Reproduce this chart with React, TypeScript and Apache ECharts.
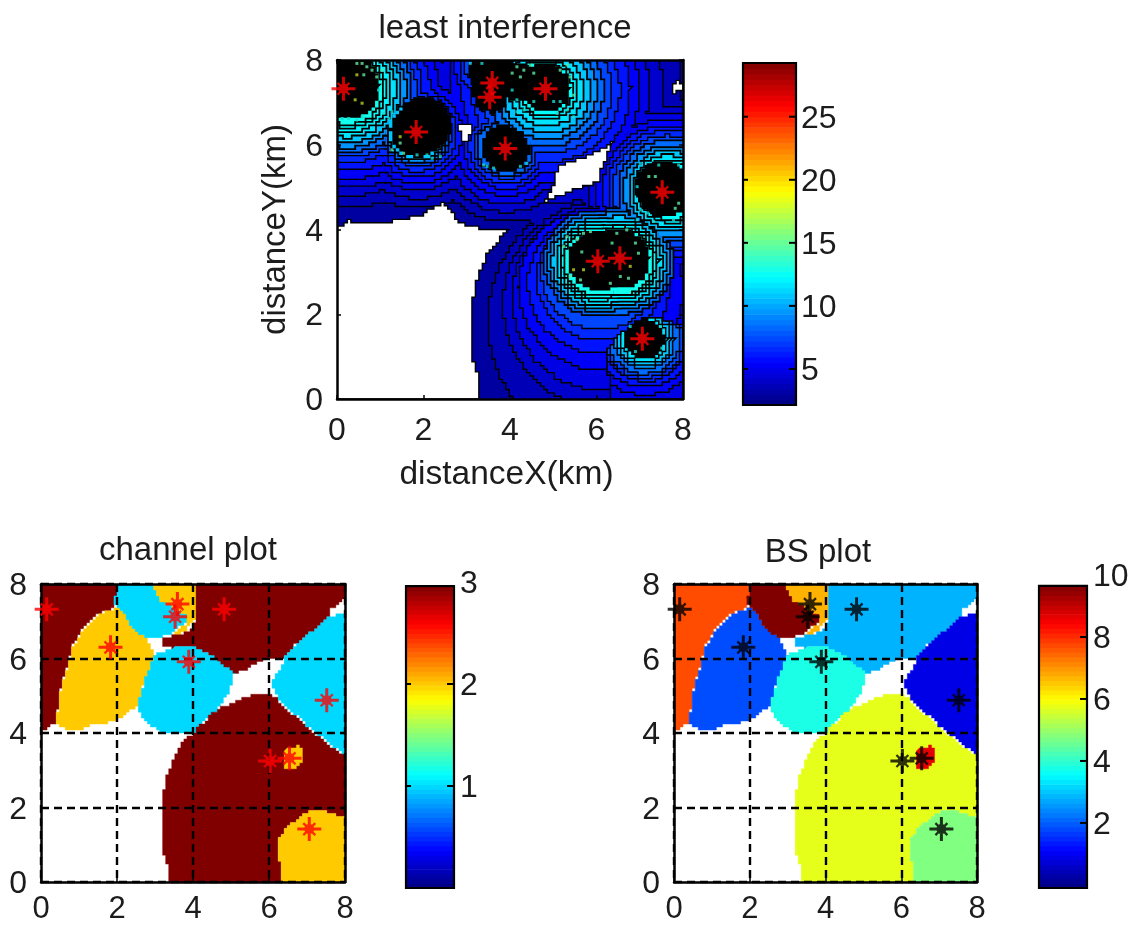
import React, { useEffect, useRef } from "react";
import * as echarts from "echarts";

// ---------- data (all in km) ----------
const bsPositions = [
  [0.15, 7.32], [1.83, 6.3], [3.59, 7.46], [3.53, 7.12], [3.89, 5.91],
  [4.82, 7.32], [7.52, 4.88], [6.03, 3.25], [6.54, 3.32], [7.06, 1.42],
];

// cells of the channel and BS plots
const regionA = [[0, 4.06], [0, 8], [1.99, 8], [1.95, 7.45], [1.82, 7.3], [1.5, 7.17], [1.11, 6.81], [0.85, 6.36], [0.68, 5.78], [0.5, 5.06], [0.39, 4.26], [0.24, 4.17], [0.06, 4.08]];
const regionB = [[1.95, 7.39], [2.12, 7.26], [2.34, 6.9], [2.78, 6.5], [2.91, 6.23], [3.0, 6.0], [2.87, 5.69], [2.69, 5.24], [2.56, 4.75], [2.34, 4.53], [2.08, 4.39], [1.77, 4.27], [1.33, 4.21], [1.03, 4.08], [0.68, 4.09], [0.39, 4.24], [0.5, 5.06], [0.68, 5.78], [0.85, 6.36], [1.11, 6.81], [1.5, 7.17], [1.82, 7.3]];
const regionD = [[1.97, 8], [2.96, 8], [3.13, 7.57], [3.48, 7.39], [3.83, 7.17], [3.79, 6.9], [3.48, 6.68], [3.18, 6.59], [2.76, 6.54], [2.43, 6.85], [2.19, 7.26], [1.95, 7.48]];
const regionE = [[2.96, 8], [4.1, 8], [4.1, 7.2], [3.98, 6.94], [3.75, 6.68], [3.44, 6.62], [3.48, 6.68], [3.79, 6.9], [3.83, 7.17], [3.48, 7.39], [3.13, 7.57]];
const regionF = [[4.1, 8], [8, 8], [8, 7.62], [7.91, 7.53], [7.6, 7.26], [7.56, 7.12], [7.25, 6.81], [6.9, 6.5], [6.6, 6.23], [6.42, 6.0], [5.9, 5.96], [5.42, 5.69], [5.06, 5.6], [4.8, 5.78], [4.5, 6.05], [4.1, 6.27], [3.75, 6.32], [3.48, 6.27], [3.22, 6.32], [3.18, 6.54], [3.48, 6.63], [3.75, 6.68], [3.96, 6.85], [4.1, 7.2]];
const regionG = [[3.53, 6.3], [4.0, 6.3], [4.5, 6.05], [4.8, 5.78], [5.1, 5.56], [4.97, 5.1], [4.75, 4.7], [4.4, 4.39], [4.05, 4.03], [3.66, 4.0], [3.22, 4.03], [2.82, 4.26], [2.56, 4.6], [2.59, 4.97], [2.78, 5.6], [3.0, 6.14], [3.22, 6.18]];
const regionH = [[4.05, 4.0], [3.75, 3.76], [3.53, 3.36], [3.31, 2.82], [3.18, 2.2], [3.18, 0.85], [3.35, 0.36], [3.38, 0], [6.29, 0], [6.27, 1.21], [6.46, 1.52], [6.99, 1.88], [7.43, 1.91], [7.96, 1.7], [8, 1.7], [8, 3.42], [7.69, 3.63], [7.21, 3.99], [6.64, 4.52], [6.2, 4.97], [5.94, 5.06], [5.68, 5.04], [5.15, 4.84], [4.75, 4.66], [4.36, 4.35]];
const regionI = [[8, 7.24], [7.96, 7.21], [7.56, 7.08], [7.25, 6.81], [6.9, 6.5], [6.46, 6.09], [6.33, 5.78], [6.07, 5.29], [6.2, 4.97], [6.64, 4.52], [7.21, 3.99], [7.69, 3.63], [8, 3.42]];
const regionJ = [[6.29, 0], [6.27, 1.21], [6.46, 1.52], [6.99, 1.88], [7.43, 1.91], [7.96, 1.7], [8, 1.7], [8, 0]];
const regionK = [[6.45, 3.6], [6.75, 3.65], [6.9, 3.5], [6.9, 3.25], [6.72, 3.05], [6.45, 3.0], [6.4, 3.3]];
const regions = [regionA, regionB, regionD, regionE, regionF, regionG, regionH, regionI, regionJ, regionK];

const channelValues = [3, 2, 1, 2, 3, 1, 3, 1, 2, 2];
const stationValues = [8, 2, 10, 7, 3, 4, 6, 1, 5, 9];

// "least interference": contours, one radius per contour level (0 = that source has no such contour)
const sourceCentres = [[0.2, 7.33], [1.83, 6.3], [3.55, 7.85], [4.82, 7.32], [3.89, 5.91], [7.7, 4.9], [6.03, 3.2], [6.54, 3.25]];
const radiiA = [2.79, 2.52, 2.33, 2.13, 1.93, 1.73, 1.61, 1.5, 1.38, 1.26, 1.14, 1.03, 0.91, 0.84];
const radiiB = [1.78, 1.55, 1.35, 1.19, 1.04, 0.92, 0.8, 0.74, 0.68, 0.64];
const radiiD = [1.55, 1.35, 1.05, 0.93, 0.81, 0.7, 0.58];
const radiiF = [3.14, 2.71, 2.4, 2.17, 1.94, 1.71, 1.52, 1.33, 1.17, 1.02, 0.86, 0.71, 0.62];
const radiiG = [1.7, 1.48, 1.3, 1.1, 0.94, 0.82, 0.7, 0.62];
const radiiI = [2.2, 2.0, 1.85, 1.69, 1.54, 1.42, 1.3, 1.18, 1.06, 0.94, 0.83, 0.72, 0.66];
const radiiH1 = [0, 0, 0, 0, 0, 0, 0, 1.22, 1.13, 1.04, 0.95, 0.86, 0.8, 0.76];
const radiiH2 = [0, 0, 0, 0, 0, 0, 0, 1.22, 1.13, 1.04, 0.95, 0.86, 0.8, 0.76];
const sourceRadii = [radiiA, radiiB, radiiD, radiiF, radiiG, radiiI, radiiH1, radiiH2];
// the wide lower contours of the large cell: [x, y, radius, level]
const wideContours = [[6.6, 1.8, 3.1, 1], [6.3, 2.2, 2.45, 2], [6.2, 2.35, 2.15, 3], [6.1, 2.6, 1.9, 4], [6.05, 2.7, 1.62, 5], [6.05, 2.82, 1.42, 6], [6.05, 2.95, 1.3, 7]];
// the lower right cell stands apart: contour radii and the level of each band inside it
const cellJCentre = [7.09, 1.42];
const cellJBaseLevel = 3;
const cellJRadii = [1.32, 1.14, 1.0, 0.92, 0.83, 0.71, 0.63, 0.55];
const cellJLevels = [4, 5, 6, 7, 8, 9, 10, 11];
const cellJBlack = 0.48;
// saturated zones: [x, y, radius]
const blackZones = [[0.2, 7.4, 0.8], [1.83, 6.3, 0.6], [2.05, 6.5, 0.62], [3.55, 7.45, 0.47], [3.55, 7.15, 0.4], [3.6, 7.75, 0.55], [4.15, 7.5, 0.45], [4.82, 7.35, 0.58], [3.89, 5.91, 0.56], [6.03, 3.25, 0.7], [6.54, 3.32, 0.7], [7.55, 4.95, 0.66]];
// areas left white (below the lowest level)
const whiteCorner = [[0, 0], [0, 4.06], [0.27, 4.2], [0.62, 4.14], [1.43, 4.22], [1.97, 4.38], [2.47, 4.67], [2.77, 4.18], [3.28, 4.03], [3.96, 4.0], [3.54, 3.48], [3.27, 2.92], [3.08, 1.9], [3.08, 1.11], [3.31, 0.41], [3.31, 0]];
const whiteGap = [[2.77, 6.5], [3.04, 6.5], [3.12, 6.34], [3.04, 6.1], [2.93, 6.09], [2.85, 6.34]];
const whiteDiamond = [[6.39, 6.08], [6.12, 5.4], [6.04, 5.12], [5.39, 4.89], [4.81, 4.67], [5.0, 5.08], [5.1, 5.52], [5.62, 5.67]];
const whiteSliver = [[7.93, 7.55], [7.97, 7.29], [7.78, 7.19], [7.72, 7.21], [7.79, 7.44]];
const whiteAreas = [whiteCorner, whiteGap, whiteDiamond, whiteSliver];

// isolated coloured pixels inside the black saturated zones
const cyanDots = [[0.12, 6.62], [0.27, 6.62], [0.46, 6.58], [0.58, 6.66], [1.08, 6.74], [1.2, 6.62], [0.96, 7.29], [1.27, 6.78], [1.85, 5.76], [2.08, 5.76], [2.2, 5.68], [2.39, 5.72], [3.47, 5.49], [3.62, 5.45], [3.39, 5.52], [4.24, 5.49], [4.39, 5.56], [4.05, 7.29], [4.16, 7.06], [4.32, 6.82], [4.16, 6.78], [4.55, 7.02], [5.01, 7.02], [5.16, 7.02], [5.32, 6.82], [5.09, 6.74], [5.47, 6.66], [7.44, 5.52], [7.9, 5.52], [7.01, 5.56], [6.94, 5.01], [7.01, 4.46], [7.17, 4.39], [6.94, 4.23], [7.32, 4.19], [7.78, 4.23], [6.9, 1.12], [7.51, 1.2], [7.48, 1.71], [6.78, 1.71], [3.08, 7.92], [3.35, 7.92]];
const greenDots = [[0.46, 7.92], [0.58, 7.92], [0.69, 7.84], [0.81, 7.76], [0.62, 7.65], [0.92, 7.6], [1.04, 7.76], [1.46, 6.04], [1.27, 5.88], [1.54, 5.8], [4.16, 7.84], [4.32, 7.76], [4.47, 7.88], [4.05, 7.69], [4.24, 7.6], [4.55, 7.69], [5.16, 7.76], [5.32, 7.88], [5.39, 7.6], [5.47, 7.17], [7.21, 5.25], [7.36, 5.25], [7.9, 4.62], [7.82, 4.5], [5.32, 3.83], [5.55, 3.76], [5.7, 3.91], [5.86, 3.95], [5.24, 3.6], [5.66, 3.47], [6.36, 3.68], [6.47, 3.91], [6.7, 3.99], [6.9, 3.68], [6.97, 3.44], [5.39, 2.89], [5.63, 2.81], [6.55, 2.89], [6.74, 2.85], [6.32, 2.73]];
const yellowDots = [[0.46, 7.65], [0.42, 7.06], [0.58, 6.98], [1.46, 6.19], [5.47, 3.05], [5.7, 3.05], [6.78, 3.13]];

const levelRange = [2.14, 29.26];
const levelValues = [3, 3.6, 4.2, 4.8, 5.4, 6, 6.6, 7.4, 8.4, 9.5, 10.8, 11.6, 12, 12.4, 12.8, 13.2];
const topBarTicks = [5, 10, 15, 20, 25];
const channelBarTicks = [1, 2];
const channelBarLabels = [1, 2, 3];
const stationBarTicks = [2, 4, 6, 8];
const stationBarLabels = [2, 4, 6, 8, 10];

// ---------- drawing helpers ----------
const CELL = 0.08;
const FONT = "Liberation Sans";
const INK = "#1c1c1c";
const STAR = "path://M10.5 0H13.5V24H10.5Z M0 10.5H24V13.5H0Z M6.8 5.2L18.8 17.2L17.2 18.8L5.2 6.8Z M17.2 5.2L18.8 6.8L6.8 18.8L5.2 17.2Z M12 7A5 5 0 1 1 12 17A5 5 0 1 1 12 7Z";

const clamp01 = (v: number) => Math.max(0, Math.min(1, v));
function jet(value: number) {
  const t = clamp01(value);
  const r = clamp01(Math.min(4 * t - 1.5, -4 * t + 4.5));
  const g = clamp01(Math.min(4 * t - 0.5, -4 * t + 3.5));
  const b = clamp01(Math.min(4 * t + 0.5, -4 * t + 2.5));
  return `rgb(${Math.round(r * 255)},${Math.round(g * 255)},${Math.round(b * 255)})`;
}
function onMesh(poly: number[][]) {
  const out: number[][] = [];
  const snap = (v: number) => Math.round(v / CELL) * CELL;
  for (let e = 0; e < poly.length; e++) {
    const a = poly[e];
    const b = poly[(e + 1) % poly.length];
    const n = Math.max(1, Math.ceil(Math.max(Math.abs(b[0] - a[0]), Math.abs(b[1] - a[1])) / CELL));
    for (let i = 0; i < n; i++) {
      const gx = snap(a[0] + ((b[0] - a[0]) * i) / n);
      const gy = snap(a[1] + ((b[1] - a[1]) * i) / n);
      const last = out[out.length - 1];
      if (last && last[0] === gx && last[1] === gy) continue;
      if (last && last[0] !== gx && last[1] !== gy) out.push([gx, last[1]]);
      out.push([gx, gy]);
    }
  }
  return out;
}
function ringPolygon(x: number, y: number, r: number) {
  const pts: number[][] = [];
  const n = Math.max(24, Math.round(r * 40));
  for (let i = 0; i < n; i++) {
    const a = (i / n) * Math.PI * 2;
    pts.push([x + r * Math.cos(a), y + r * Math.sin(a)]);
  }
  return pts;
}
const levelColor = (k: number) => jet((levelValues[k] - levelRange[0]) / (levelRange[1] - levelRange[0]));

// ---------- option pieces ----------
const plotRects = [
  { left: 337, top: 60, width: 346, height: 339 },
  { left: 41, top: 584, width: 304, height: 298 },
  { left: 674, top: 584, width: 303, height: 298 },
];
const barRects = [
  { left: 743, top: 63, width: 53, height: 342 },
  { left: 406, top: 582, width: 48, height: 306 },
  { left: 1039, top: 575, width: 48, height: 313 },
];
const barScales = [
  { min: 2.14, max: 29.26, lo: 2.14, hi: 29.26, ticks: topBarTicks, labels: topBarTicks, leftTicks: topBarTicks, margin: 5 },
  { min: 0, max: 3, lo: 0, hi: 2.96, ticks: channelBarTicks, labels: channelBarLabels, leftTicks: channelBarTicks, margin: 6 },
  { min: -0.1, max: 10, lo: -0.1, hi: 9.65, ticks: stationBarTicks, labels: stationBarLabels, leftTicks: [] as number[], margin: 6 },
];
const bandIndexes = Array.from({ length: 64 }, (_, i) => i);

function plotAxes(gridIndex: number, dashed: boolean) {
  const line = { show: true, onZero: false, lineStyle: { color: "#000", width: 2.5 } };
  const tick = { show: true, inside: true, length: 4, lineStyle: { color: "#000", width: 1.5 } };
  const base = { type: "value", min: 0, max: 8, interval: 2, gridIndex, z: 6, axisLine: line, axisTick: tick };
  const split = dashed
    ? { show: true, showMinLine: true, showMaxLine: true, lineStyle: { color: "#000", width: 2.4, type: [8, 5] } }
    : { show: false };
  const off = { show: false };
  const xLabel = dashed
    ? { show: true, fontFamily: FONT, fontSize: 31, color: INK, margin: 10 }
    : { show: true, fontFamily: FONT, fontSize: 32, color: INK, margin: 14 };
  const yLabel = { show: true, fontFamily: FONT, fontSize: 32, color: INK, margin: 14 };
  return {
    x: [
      { ...base, position: "bottom", splitLine: split, axisLabel: xLabel },
      { ...base, position: "top", splitLine: off, axisLabel: off },
    ],
    y: [
      { ...base, position: "left", splitLine: split, axisLabel: yLabel },
      { ...base, position: "right", splitLine: off, axisLabel: off },
    ],
  };
}

// one contour level: outlines first, then the fills, so that only the union's edge stays visible
function levelShapes(polys: number[][][], fill: string, width: number, toPx: (p: number[][]) => number[][]) {
  const shapes = polys.map(toPx);
  return [
    ...shapes.map((points) => ({ type: "polygon", shape: { points }, style: { fill: "none", stroke: "#000", lineWidth: width } })),
    ...shapes.map((points) => ({ type: "polygon", shape: { points }, style: { fill } })),
  ];
}

function buildOption() {
  const xAxis: any[] = [];
  const yAxis: any[] = [];
  const grid: any[] = [];
  const series: any[] = [];

  plotRects.forEach((rect, i) => {
    grid.push({ ...rect, containLabel: false });
    const ax = plotAxes(i, i > 0);
    xAxis.push(...ax.x);
    yAxis.push(...ax.y);
  });
  xAxis[0].name = "distanceX(km)";
  xAxis[0].nameLocation = "middle";
  xAxis[0].nameGap = 56;
  xAxis[0].nameTextStyle = { fontFamily: FONT, fontSize: 33.5, color: INK, padding: [0, 7, 0, 0] };
  yAxis[0].name = "distanceY(km)";
  yAxis[0].nameLocation = "middle";
  yAxis[0].nameGap = 47;
  yAxis[0].nameTextStyle = { fontFamily: FONT, fontSize: 33, color: INK };

  barRects.forEach((rect, i) => {
    grid.push({ ...rect, containLabel: false });
    const s = barScales[i];
    xAxis.push({ type: "value", min: 0, max: 1, gridIndex: 3 + i, show: false });
    yAxis.push({
      type: "value", min: s.min, max: s.max, gridIndex: 3 + i, position: "right", z: 6,
      axisLine: { show: false }, splitLine: { show: false }, axisTick: { show: false },
      axisLabel: { show: true, customValues: s.labels, fontFamily: FONT, fontSize: 32, color: INK, margin: s.margin },
    });
  });

  // contour plot, painted level by level
  series.push({
    type: "custom", coordinateSystem: "cartesian2d", xAxisIndex: 0, yAxisIndex: 0, z: 2, clip: true,
    data: [[4, 4]],
    renderItem: (_: any, api: any) => {
      const toPx = (poly: number[][]) => onMesh(poly).map((p) => api.coord(p));
      const tl = api.coord([0, 8]);
      const br = api.coord([8, 0]);
      const children: any[] = [
        { type: "rect", shape: { x: tl[0], y: tl[1], width: br[0] - tl[0], height: br[1] - tl[1] }, style: { fill: levelColor(0) } },
      ];
      for (let level = 1; level < levelValues.length; level++) {
        const polys: number[][][] = [];
        sourceCentres.forEach((c, s) => {
          const r = sourceRadii[s][level - 1];
          if (r) polys.push(ringPolygon(c[0], c[1], r));
        });
        wideContours.forEach((w) => {
          if (w[3] === level) polys.push(ringPolygon(w[0], w[1], w[2]));
        });
        children.push(...levelShapes(polys, levelColor(level), level >= 8 ? 3.6 : 2.8, toPx));
      }
      blackZones.forEach((z) => {
        children.push({ type: "polygon", shape: { points: toPx(ringPolygon(z[0], z[1], z[2])) }, style: { fill: "#000" } });
      });

      // lower right cell, kept inside its own outline
      const outlineJ = toPx(regionJ);
      const cellJ: any[] = [{ type: "polygon", shape: { points: outlineJ }, style: { fill: levelColor(cellJBaseLevel) } }];
      cellJRadii.forEach((r, k) => {
        cellJ.push({
          type: "polygon",
          shape: { points: toPx(ringPolygon(cellJCentre[0], cellJCentre[1], r)) },
          style: { fill: levelColor(cellJLevels[k]), stroke: "#000", lineWidth: 1.5 },
        });
      });
      cellJ.push({ type: "polygon", shape: { points: toPx(ringPolygon(cellJCentre[0], cellJCentre[1], cellJBlack)) }, style: { fill: "#000" } });
      children.push({ type: "group", clipPath: { type: "polygon", shape: { points: outlineJ } }, children: cellJ });
      children.push({ type: "polygon", shape: { points: outlineJ }, style: { fill: "none", stroke: "#000", lineWidth: 1.4 } });

      whiteAreas.forEach((poly) => {
        children.push({ type: "polygon", shape: { points: toPx(poly) }, style: { fill: "#fff", stroke: "#000", lineWidth: 1.4 } });
      });
      return { type: "group", children };
    },
  });
  const dotSeries = (data: number[][], color: string) => ({
    type: "scatter", xAxisIndex: 0, yAxisIndex: 0, symbol: "rect", symbolSize: 3, z: 4, data,
    itemStyle: { color }, clip: true, silent: true,
  });
  series.push(dotSeries(cyanDots, "#19d9d0"), dotSeries(greenDots, "#5fe8a0"), dotSeries(yellowDots, "#b8d020"));

  // flat region plots
  const flat = (axisIndex: number, values: number[], span: number[]) => ({
    type: "custom", coordinateSystem: "cartesian2d", xAxisIndex: axisIndex, yAxisIndex: axisIndex, z: 2,
    data: regions.map((poly, i) => [poly[0][0], poly[0][1], values[i]]),
    renderItem: (params: any, api: any) => {
      const color = jet((values[params.dataIndex] - span[0]) / (span[1] - span[0]));
      return {
        type: "polygon",
        shape: { points: onMesh(regions[params.dataIndex]).map((p) => api.coord(p)) },
        style: { fill: color, stroke: color, lineWidth: 0.4 },
      };
    },
  });
  series.push(flat(2, channelValues, [0, 2.96]), flat(4, stationValues, [0, 10]));

  // base stations
  const stars = (axisIndex: number, color: string) => ({
    type: "scatter", xAxisIndex: axisIndex, yAxisIndex: axisIndex, symbol: STAR, symbolSize: 24, z: 10, clip: false,
    data: bsPositions, itemStyle: { color }, silent: true,
  });
  series.push(stars(0, "#ff0000"), stars(2, "#ff0000"), stars(4, "#000"));

  // colour bars
  barScales.forEach((s, i) => {
    const axisX = 6 + i;
    const axisY = 6 + i;
    series.push({
      type: "custom", coordinateSystem: "cartesian2d", xAxisIndex: axisX, yAxisIndex: axisY, z: 2, clip: false,
      data: bandIndexes.map((b) => [0.5, s.lo + ((b + 0.5) * (s.hi - s.lo)) / 64]),
      renderItem: (params: any, api: any) => {
        const b = params.dataIndex;
        const p0 = api.coord([0, s.lo + ((b + 1) * (s.hi - s.lo)) / 64]);
        const p1 = api.coord([1, s.lo + (b * (s.hi - s.lo)) / 64]);
        return {
          type: "rect",
          shape: { x: p0[0], y: p0[1], width: p1[0] - p0[0], height: p1[1] - p0[1] + (b > 0 ? 0.7 : 0) },
          style: { fill: jet((b + 0.5) / 64) },
        };
      },
    });
    series.push({
      type: "custom", coordinateSystem: "cartesian2d", xAxisIndex: axisX, yAxisIndex: axisY, z: 7, clip: false,
      data: [[0.5, s.lo]],
      renderItem: (_: any, api: any) => {
        const p0 = api.coord([0, s.hi]);
        const p1 = api.coord([1, s.lo]);
        const tickStyle = { stroke: "#000", lineWidth: 2 };
        const children: any[] = [
          {
            type: "rect",
            shape: { x: p0[0], y: p0[1], width: p1[0] - p0[0], height: p1[1] - p0[1] },
            style: { fill: "none", stroke: "#000", lineWidth: 2.2 },
          },
        ];
        s.ticks.forEach((v) => {
          const y = api.coord([0, v])[1];
          children.push({ type: "line", shape: { x1: p1[0] - 7, y1: y, x2: p1[0], y2: y }, style: tickStyle });
        });
        s.leftTicks.forEach((v) => {
          const y = api.coord([0, v])[1];
          children.push({ type: "line", shape: { x1: p0[0], y1: y, x2: p0[0] + 5, y2: y }, style: tickStyle });
        });
        return { type: "group", children };
      },
    });
  });

  const titleStyle = { fontFamily: FONT, fontSize: 33, fontWeight: "normal", color: INK };
  return {
    animation: false,
    backgroundColor: "#fff",
    title: [
      { text: "least interference", left: 500, top: 5, textAlign: "center", textStyle: titleStyle },
      { text: "channel plot", left: 183, top: 527, textAlign: "center", textStyle: titleStyle },
      { text: "BS plot", left: 813, top: 529, textAlign: "center", textStyle: titleStyle },
    ],
    grid, xAxis, yAxis, series,
  };
}

export default function App() {
  const ref = useRef<HTMLDivElement | null>(null);
  useEffect(() => {
    const chart = echarts.init(ref.current!, null, { renderer: "svg" });
    chart.setOption(buildOption() as any);
    return () => chart.dispose();
  }, []);
  return (
    <div
      ref={ref}
      style={{ position: "fixed", left: 0, top: 0, width: 1141, height: 927, filter: "blur(0.5px)" }}
    />
  );
}
